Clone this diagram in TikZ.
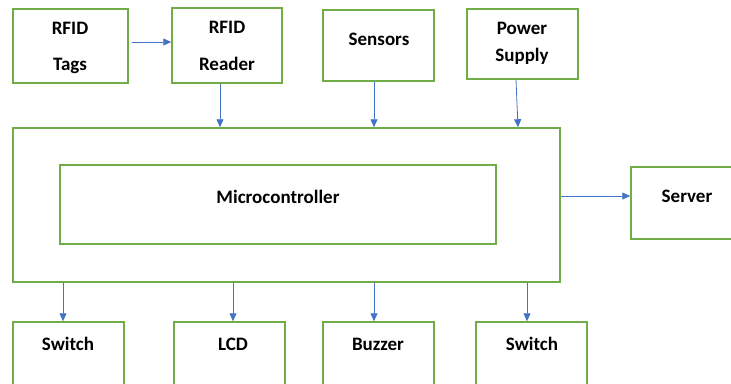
\documentclass[tikz,border=0pt]{standalone}
\usepackage{fontspec}
\setmainfont{Carlito}
\usetikzlibrary{arrows.meta}
\definecolor{boxgreen}{RGB}{112,173,71}
\definecolor{arrblue}{RGB}{68,114,196}

\begin{document}
\begin{tikzpicture}[x=1pt,y=-1pt,
    blk/.style={draw=boxgreen,line width=1.5pt,fill=white,inner sep=0pt},
    txt/.style={font=\fontsize{19}{22}\selectfont\bfseries,inner sep=0pt,align=center},
    arr/.style={draw=arrblue,line width=0.8pt,-{Triangle[length=8pt,width=7pt]}}]
    \useasboundingbox (0,0) rectangle (731,383);
    \clip (0,0) rectangle (731,383);
    % Top row
    \node[blk,minimum width=115pt,minimum height=74pt] (tags) at (70.5,46) {};
    \node[blk,minimum width=110pt,minimum height=75pt] (reader) at (227,45.5) {};
    \node[blk,minimum width=111pt,minimum height=71pt] (sensors) at (378.5,45.5) {};
    \node[blk,minimum width=111pt,minimum height=70pt] (power) at (522.5,44) {};
    \node[txt,font=\fontsize{19}{36}\selectfont\bfseries] (tagsT) at (70,48) {RFID\\Tags};
    \node[txt,font=\fontsize{19}{37}\selectfont\bfseries] (readerT) at (227,45.5) {RFID\\Reader};
    \node[txt] (sensorsT) at (379,39) {Sensors};
    \node[txt,font=\fontsize{19}{27}\selectfont\bfseries] (powerT) at (522,43) {Power\\Supply};
    % Board
    \node[blk,minimum width=547pt,minimum height=154pt] (board) at (286.5,205) {};
    \node[blk,minimum width=436pt,minimum height=79pt] (mcu) at (278,204.5) {};
    \node[txt] (mcuT) at (278,197) {Microcontroller};
    \node[blk,minimum width=110pt,minimum height=72pt] (server) at (686,203) {};
    \node[txt] (serverT) at (687,196) {Server};
    % Bottom row
    \node[blk,minimum width=111pt,minimum height=80pt] (sw1) at (68.5,362) {};
    \node[blk,minimum width=111pt,minimum height=80pt] (lcd) at (229.5,362) {};
    \node[blk,minimum width=111pt,minimum height=80pt] (buzzer) at (378.5,362) {};
    \node[blk,minimum width=111pt,minimum height=80pt] (sw2) at (531.5,362) {};
    \node[txt] (sw1T) at (68,344) {Switch};
    \node[txt] (lcdT) at (233,344) {LCD};
    \node[txt] (buzzerT) at (378,344) {Buzzer};
    \node[txt] (sw2T) at (532,344) {Switch};
    % Arrows
    \draw[arr] ([xshift=3pt]tags.east |- 0,42) -- (reader.west |- 0,42);
    \draw[arr] (220,0 |- reader.south) -- (220,0 |- board.north);
    \draw[arr] (374,0 |- sensors.south) -- (374,0 |- board.north);
    \draw[arr] (516,0 |- power.south) -- (518,0 |- board.north);
    \draw[arr] (board.east |- 0,196) -- (server.west |- 0,196);
    \draw[arr] (63,0 |- board.south) -- (63,0 |- sw1.north);
    \draw[arr] (233,0 |- board.south) -- (233,0 |- lcd.north);
    \draw[arr] (374,0 |- board.south) -- (374,0 |- buzzer.north);
    \draw[arr] (527,0 |- board.south) -- (527,0 |- sw2.north);
\end{tikzpicture}
\end{document}
